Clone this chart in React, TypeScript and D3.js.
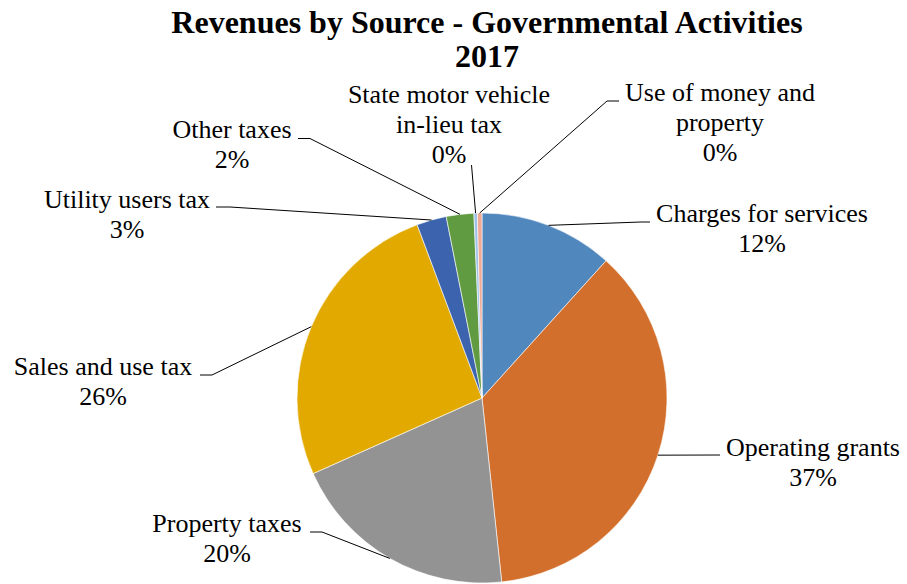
import { useEffect, useRef } from "react";
import * as d3 from "d3";

// revenue sources, clockwise from 12 o'clock
const categories = [
  "Charges for services",
  "Operating grants",
  "Property taxes",
  "Sales and use tax",
  "Utility users tax",
  "Other taxes",
  "State motor vehicle in-lieu tax",
  "Use of money and property",
];
// share of total revenues (%)
const shares = [11.7, 36.6, 20.0, 26.0, 2.6, 2.4, 0.3, 0.4];
const colors = [
  "#5087BD",
  "#D36F2C",
  "#939393",
  "#E2AA00",
  "#3C64AE",
  "#609B41",
  "#9EC2E8",
  "#F0A996",
];
const titleLines = ["Revenues by Source - Governmental Activities", "2017"];

// label layout: text lines, center x, first baseline, elbow and end of leader line
const labelLayout = [
  { lines: ["Charges for services"], x: 762, y: 222, elbow: [641, 222], end: [650, 222] },
  { lines: ["Operating grants"], x: 813, y: 456, elbow: [720, 455], end: [720, 455] },
  { lines: ["Property taxes"], x: 227, y: 532, elbow: [322, 532], end: [310, 532] },
  { lines: ["Sales and use tax"], x: 103, y: 375, elbow: [212, 375], end: [200, 375] },
  { lines: ["Utility users tax"], x: 127, y: 208, elbow: [230, 207], end: [216, 207] },
  { lines: ["Other taxes"], x: 232, y: 138, elbow: [310, 138.5], end: [298, 138.5] },
  { lines: ["State motor vehicle", "in-lieu tax"], x: 449, y: 103, elbow: [471.5, 165], end: [471.5, 165] },
  { lines: ["Use of money and", "property"], x: 720, y: 101, elbow: [607, 101], end: [619, 101] },
];

const font =
  '"Liberation Serif", Tinos, "Noto Serif", FreeSerif, "DejaVu Serif", "Times New Roman", Times, serif';

export default function App() {
  const svgRef = useRef<SVGSVGElement>(null);

  useEffect(() => {
    const width = 907;
    const height = 584;
    const svg = d3.select(svgRef.current).attr("width", width).attr("height", height);
    svg.selectAll("*").remove();

    const cx = 482;
    const cy = 398;
    const radius = 185;

    // title
    svg
      .append("g")
      .selectAll("text")
      .data(titleLines)
      .join("text")
      .attr("x", 487)
      .attr("y", (d, i) => 33 + i * 34)
      .attr("text-anchor", "middle")
      .style("font-family", font)
      .attr("font-weight", "bold")
      .attr("font-size", 32)
      .attr("fill", "#000")
      .text((d) => d);

    const pie = d3
      .pie<number>()
      .sort(null)
      .value((d) => d);
    const arcs = pie(shares);

    const arc = d3.arc<d3.PieArcDatum<number>>().innerRadius(0).outerRadius(radius);

    const chart = svg.append("g").attr("transform", `translate(${cx},${cy})`);

    chart
      .selectAll("path")
      .data(arcs)
      .join("path")
      .attr("d", arc)
      .attr("fill", (d, i) => colors[i])
      .attr("stroke", "#fff")
      .attr("stroke-width", 0.6);

    // leader lines from slice edge (mid angle) to the label
    const total = d3.sum(shares);
    const leaders = svg.append("g");
    arcs.forEach((a, i) => {
      const mid = (a.startAngle + a.endAngle) / 2;
      const sx = cx + radius * Math.sin(mid);
      const sy = cy - radius * Math.cos(mid);
      const lay = labelLayout[i];
      const pts: [number, number][] = [
        [sx, sy],
        [lay.elbow[0], lay.elbow[1]],
        [lay.end[0], lay.end[1]],
      ];
      leaders
        .append("path")
        .attr("d", d3.line()(pts))
        .attr("fill", "none")
        .attr("stroke", "#000")
        .attr("stroke-width", 1);
    });

    // labels
    const labels = svg.append("g");
    labelLayout.forEach((lay, i) => {
      const pct = Math.round((shares[i] / total) * 100) + "%";
      const lines = [...lay.lines, pct];
      const t = labels
        .append("text")
        .attr("text-anchor", "middle")
        .style("font-family", font)
        .attr("font-size", 26)
        .attr("fill", "#000")
        .attr("aria-label", categories[i]);
      lines.forEach((ln, j) => {
        t.append("tspan")
          .attr("x", lay.x)
          .attr("y", lay.y + j * 30)
          .text(ln);
      });
    });
  }, []);

  return (
    <div style={{ position: "absolute", left: 0, top: 0, background: "#fff" }}>
      <svg ref={svgRef}></svg>
    </div>
  );
}
